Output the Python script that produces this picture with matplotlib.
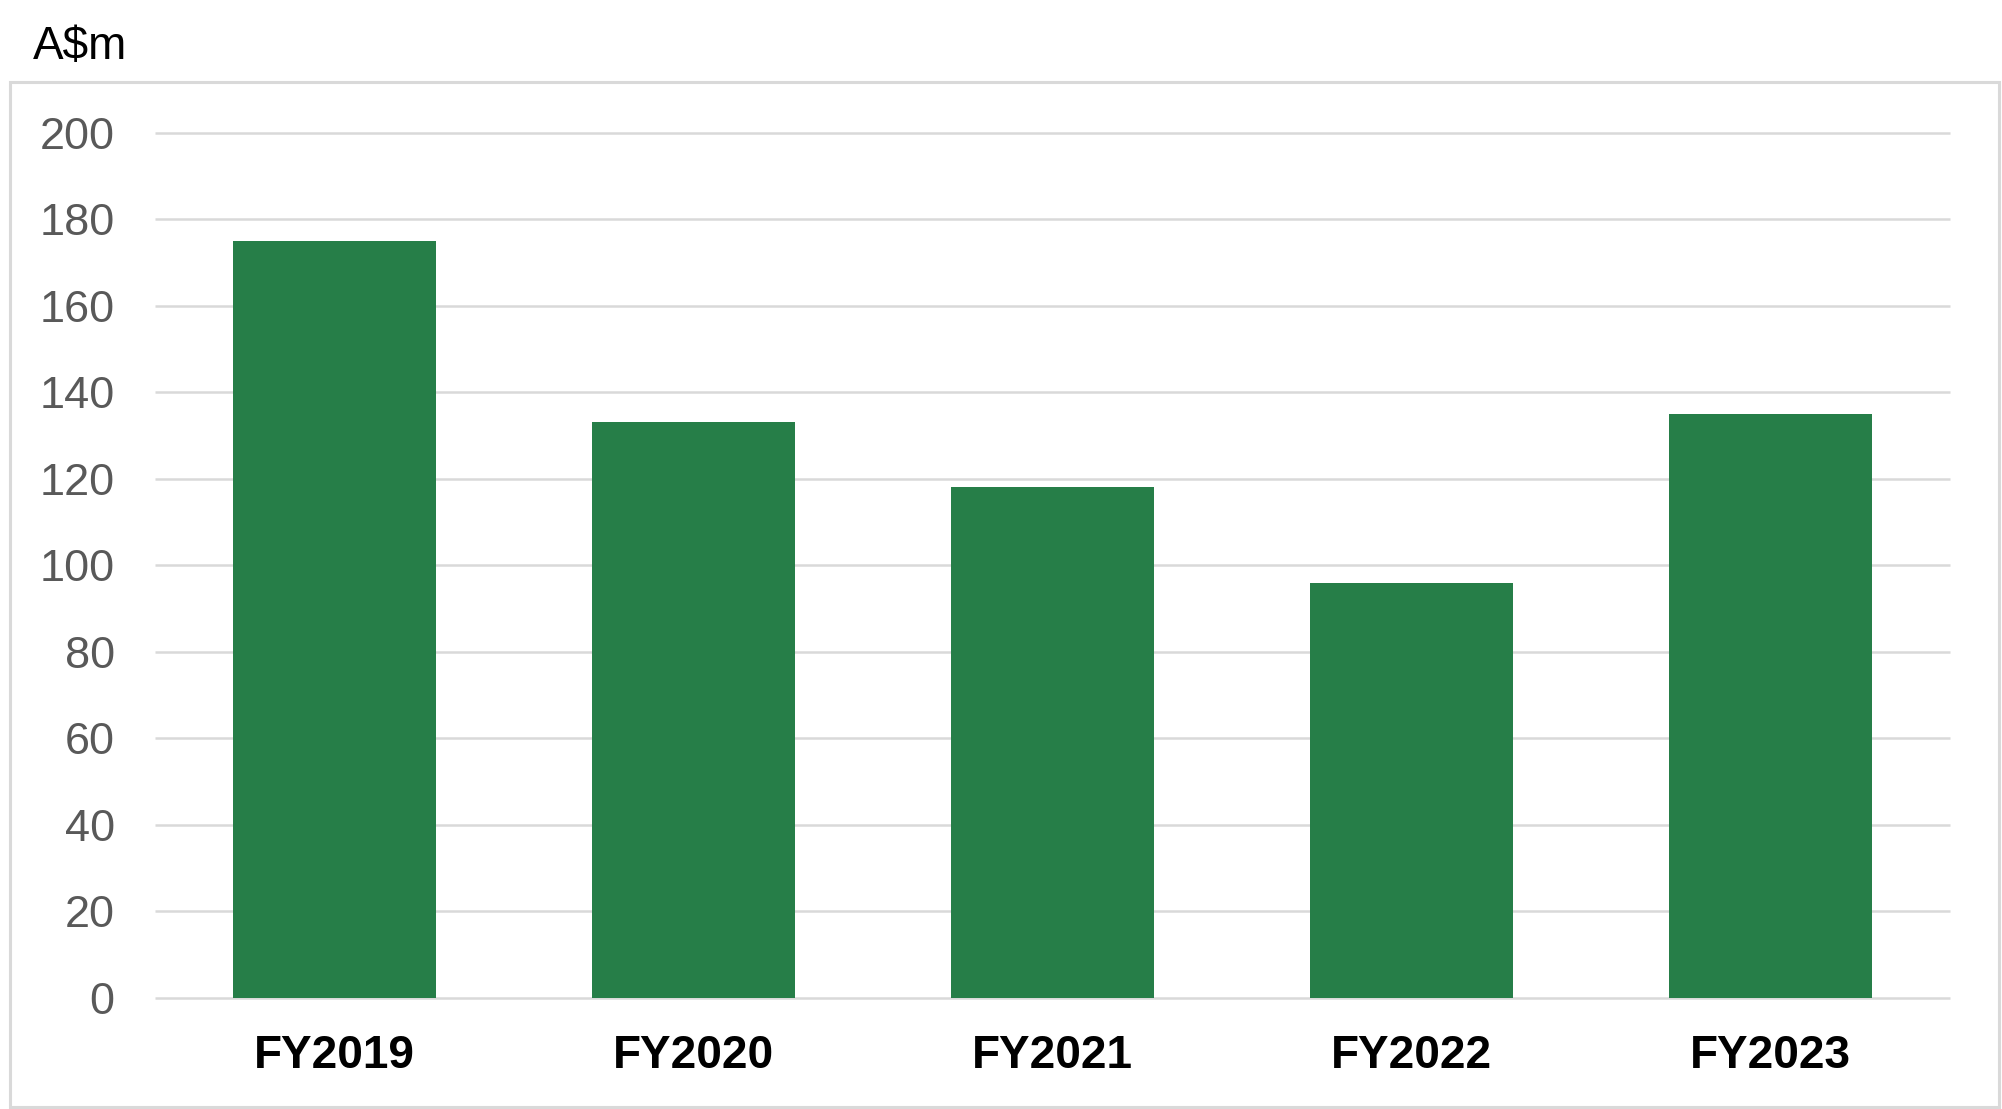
import matplotlib.pyplot as plt
from matplotlib.patches import Rectangle

years = ['FY2019', 'FY2020', 'FY2021', 'FY2022', 'FY2023']
values = [175, 133, 118, 96, 135]
y_ticks = [0, 20, 40, 60, 80, 100, 120, 140, 160, 180, 200]

W, H = 2002, 1109
plt.rcParams['font.family'] = ['Liberation Sans', 'DejaVu Sans']

fig = plt.figure(figsize=(W / 100, H / 100), dpi=100)
ax = fig.add_axes([155 / W, 1 - 998 / H, (1950 - 155) / W, (998 - 132.5) / H])

ax.bar(range(len(years)), values, width=0.563, color='#267E48', linewidth=0, zorder=2)
ax.set_xlim(-0.5, len(years) - 0.5)
ax.set_ylim(0, 200)
ax.set_yticks(y_ticks)
ax.set_xticks(range(len(years)))
ax.set_xticklabels(years, fontsize=33, fontweight='bold', color='black')
ax.tick_params(axis='y', labelsize=32.5, labelcolor='#595959', length=0, pad=29)
ax.tick_params(axis='x', length=0, pad=26)
ax.grid(axis='y', color='#d9d9d9', linewidth=1.8, zorder=0)
for gl in ax.get_ygridlines():
    gl.set_clip_on(False)  # keep the 0 line full width
    gl.set_solid_capstyle('butt')
ax.set_axisbelow(True)
for s in ax.spines.values():
    s.set_visible(False)

# outer frame around the chart area
fig.patches.append(Rectangle((10 / W, 1 - 1107 / H), (1999 - 10) / W, (1107 - 82) / H,
                             transform=fig.transFigure, fill=False,
                             edgecolor='#d9d9d9', linewidth=2.2))

fig.text(33 / W, 1 - 59 / H, 'A$m', fontsize=33, color='black', va='baseline', ha='left')

fig.savefig('out.png', dpi=100)
